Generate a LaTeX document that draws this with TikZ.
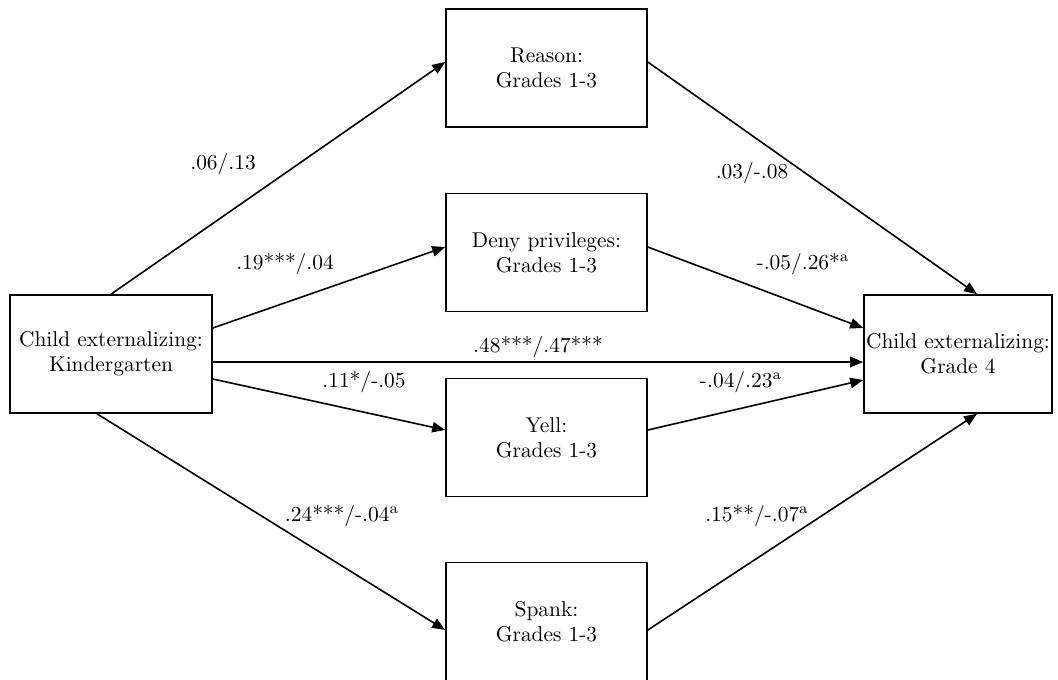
\documentclass[tikz,border=0pt]{standalone}
\usetikzlibrary{arrows.meta,calc}
\begin{document}
\begin{tikzpicture}[x=0.5pt,y=-0.5pt,every node/.style={font=\fontsize{10.7}{12.6}\selectfont},
 b/.style={draw,thick,minimum height=59pt,minimum width=100.5pt,align=center,inner sep=1pt},
 arr/.style={-{Triangle[length=6.5pt,width=5.2pt]},thick}]
\useasboundingbox (0,0) rectangle (1058,679);
\clip (0,0) rectangle (1058,679);
\node[b,minimum width=101pt] (kg) at (111,354) {Child externalizing:\\Kindergarten};
\node[b,minimum width=94pt] (g4) at (958,354) {Child externalizing:\\Grade 4};
\node[b] (reason) at (546.5,68) {Reason:\\Grades 1-3};
\node[b] (deny) at (546.5,252.5) {Deny privileges:\\Grades 1-3};
\node[b] (yell) at (546.5,437.5) {Yell:\\Grades 1-3};
\node[b] (spank) at (546.5,621.5) {Spank:\\Grades 1-3};
% paths out of kindergarten
\draw[arr] (kg.north) -- ($(reason.west)+(0,-6)$);
\draw[arr] ($(kg.east)+(0,-26)$) -- ($(deny.west)+(0,-5.5)$);
\draw[arr] ($(kg.east)+(0,8)$) -- ($(g4.west)+(0,8)$);
\draw[arr] ($(kg.east)+(0,25)$) -- ($(yell.west)+(0,-7.5)$);
\draw[arr] ($(kg.south)+(-14,0)$) -- ($(spank.west)+(0,8.5)$);
% paths into grade 4
\draw[arr] ($(reason.east)+(0,-6)$) -- ($(g4.north)+(19,0)$);
\draw[arr] ($(deny.east)+(0,-5.5)$) -- ($(g4.west)+(0,-26)$);
\draw[arr] ($(yell.east)+(0,-7.5)$) -- ($(g4.west)+(0,26)$);
\draw[arr] ($(spank.east)+(0,8.5)$) -- ($(g4.south)+(19,0)$);
% coefficients
\node (cr) at (223,164) {.06/.13};
\node (cd) at (285,264) {.19***/.04};
\node (cg) at (538,347) {.48***/.47***};
\node (cy) at (364,382) {.11*/-.05};
\node (cs) at (342,516) {.24***/-.04\textsuperscript{a}};
\node (rg) at (752,173) {.03/-.08};
\node (dg) at (803,264) {-.05/.26*\textsuperscript{a}};
\node (yg) at (741,382) {-.04/.23\textsuperscript{a}};
\node (sg) at (757,516) {.15**/-.07\textsuperscript{a}};
\end{tikzpicture}
\end{document}
